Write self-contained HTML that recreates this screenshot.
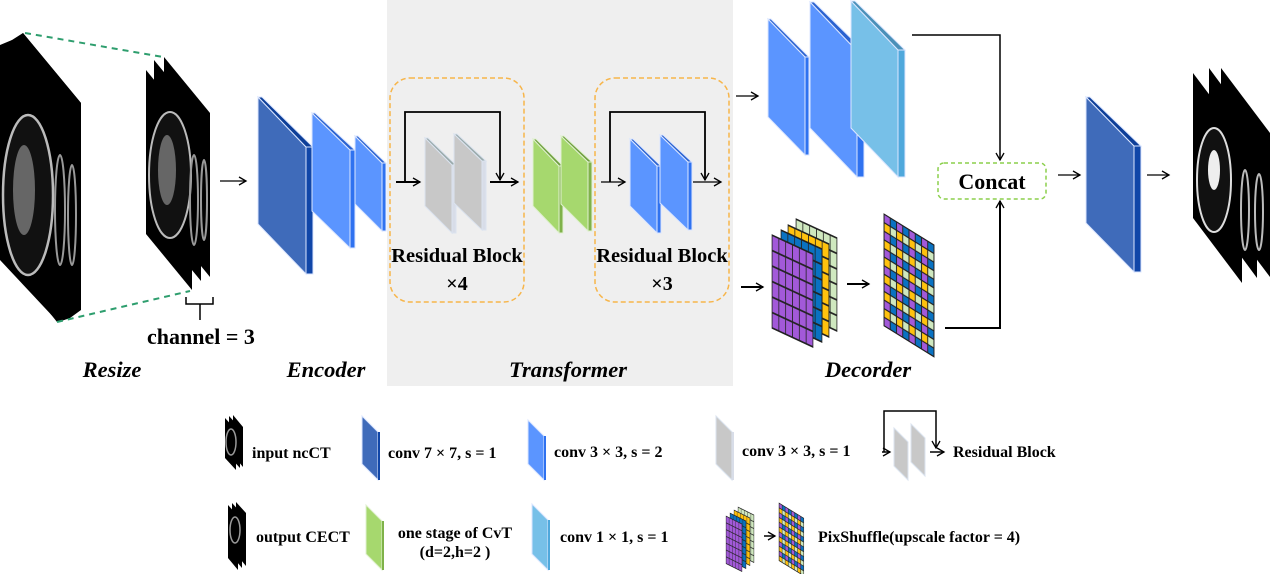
<!DOCTYPE html>
<html><head><meta charset="utf-8"><style>
html,body{margin:0;padding:0;background:#fff;}
svg{display:block;}
text{font-family:"Liberation Serif",serif;fill:#000;}
.b{font-weight:bold;}
.lg{font-weight:bold;font-size:16px;}
</style></head><body>
<svg width="1270" height="574" viewBox="0 0 1270 574" xmlns="http://www.w3.org/2000/svg">
<defs>
<marker id="ar" markerWidth="10" markerHeight="10" refX="8" refY="5" orient="auto" markerUnits="userSpaceOnUse"><path d="M1,1 L8,5 L1,9" fill="none" stroke="#000" stroke-width="1.3"/></marker>
<pattern id="pp" width="1" height="1" patternUnits="userSpaceOnUse"><rect width="1" height="1" fill="#a259d9" stroke="#222" stroke-width="0.12"/></pattern>
<pattern id="pb" width="1" height="1" patternUnits="userSpaceOnUse"><rect width="1" height="1" fill="#0a72c2" stroke="#222" stroke-width="0.12"/></pattern>
<pattern id="py" width="1" height="1" patternUnits="userSpaceOnUse"><rect width="1" height="1" fill="#ffc20e" stroke="#222" stroke-width="0.12"/></pattern>
<pattern id="pg" width="1" height="1" patternUnits="userSpaceOnUse"><rect width="1" height="1" fill="#cfe8bf" stroke="#222" stroke-width="0.12"/></pattern>
<pattern id="pm" width="2" height="2" patternUnits="userSpaceOnUse">
<rect x="0" y="0" width="1" height="1" fill="#a259d9" stroke="#222" stroke-width="0.15"/>
<rect x="1" y="0" width="1" height="1" fill="#0a72c2" stroke="#222" stroke-width="0.15"/>
<rect x="0" y="1" width="1" height="1" fill="#ffc20e" stroke="#222" stroke-width="0.15"/>
<rect x="1" y="1" width="1" height="1" fill="#cfe8bf" stroke="#222" stroke-width="0.15"/>
</pattern>
</defs>

<!-- transformer background -->
<rect x="387" y="0" width="346" height="386" fill="#efefef"/>
<rect x="390" y="78" width="134" height="224" rx="20" fill="none" stroke="#f7b54a" stroke-width="1.5" stroke-dasharray="5,3"/>
<rect x="595" y="78" width="134" height="224" rx="20" fill="none" stroke="#f7b54a" stroke-width="1.5" stroke-dasharray="5,3"/>

<!-- left CT stack -->
<g fill="#000">
<polygon points="0,50 12,40 70,110 70,318 58,322 0,260"/>
<polygon points="0,45 12,40 23,33 81,103 81,310 70,318 58,322 0,255"/>
<polygon points="23,33 81,103 81,308 57,322 0,250 0,60"/>
</g>
<ellipse cx="28" cy="195" rx="25" ry="80" fill="#111" stroke="#bbb" stroke-width="2.5"/>
<ellipse cx="24" cy="190" rx="11" ry="45" fill="#666"/>
<ellipse cx="60" cy="210" rx="5" ry="55" fill="none" stroke="#999" stroke-width="2"/>
<ellipse cx="72" cy="215" rx="4" ry="50" fill="none" stroke="#999" stroke-width="2"/>
<!-- middle CT stack -->
<g fill="#000">
<polygon points="146,70 192,126 192,290 146,234"/>
<polygon points="154,60 201,117 201,281 154,224"/>
<polygon points="164,57 210,113 210,277 164,221"/>
</g>
<ellipse cx="170" cy="175" rx="21" ry="63" fill="#111" stroke="#bbb" stroke-width="2"/>
<ellipse cx="167" cy="170" rx="9" ry="35" fill="#666"/>
<ellipse cx="194" cy="200" rx="4" ry="45" fill="none" stroke="#999" stroke-width="2"/>
<ellipse cx="204" cy="200" rx="3" ry="40" fill="none" stroke="#999" stroke-width="2"/>
<line x1="25" y1="33" x2="163" y2="57" stroke="#2e9e6e" stroke-width="2" stroke-dasharray="6,5"/>
<line x1="57" y1="322" x2="190" y2="291" stroke="#2e9e6e" stroke-width="2" stroke-dasharray="6,5"/>
<path d="M186,297 V304 H213 V297 M200,304 V320" fill="none" stroke="#000" stroke-width="1.5"/>
<text x="147" y="344" class="b" font-size="22">channel = 3</text>

<line x1="220" y1="181" x2="246" y2="181" stroke="#000" stroke-width="1.3" marker-end="url(#ar)"/>

<!-- encoder slabs -->
<g stroke="#dbe6ff" stroke-width="1">
<polygon points="258,97 306,147 306,274 258,224" fill="#3f6bba"/>
<polygon points="306,147 313,147 313,274 306,274" fill="#1046a8"/>
<polygon points="258,97 262,97 313,147 306,147" fill="#0d3e98"/>
<polygon points="312,113 350,150 350,248 312,211" fill="#5b95ff"/>
<polygon points="350,150 355,150 355,248 350,248" fill="#2f72f0"/>
<polygon points="312,113 315,113 355,150 350,150" fill="#2a62d0"/>
<polygon points="355,136 382,163 382,231 355,204" fill="#5b95ff"/>
<polygon points="382,163 386,163 386,231 382,231" fill="#2f72f0"/>
<polygon points="355,136 358,136 386,163 382,163" fill="#2a62d0"/>
</g>

<!-- transformer residual 1 -->
<path d="M396,182 H420" stroke="#000" stroke-width="2" marker-end="url(#ar)"/>
<path d="M405,182 V112 H500 V180" fill="none" stroke="#000" stroke-width="1.8" marker-end="url(#ar)"/>
<g stroke="#dbe3ef" stroke-width="1">
<polygon points="425,138 452,165 452,233 425,206" fill="#c8c8c8"/>
<polygon points="452,165 456,165 456,233 452,233" fill="#d8dde8"/>
<polygon points="425,138 428,138 456,165 452,165" fill="#9aa"/>
<polygon points="454,134 482,161 482,230 454,203" fill="#c8c8c8"/>
<polygon points="482,161 486,161 486,230 482,230" fill="#d8dde8"/>
<polygon points="454,134 457,134 486,161 482,161" fill="#9aa"/>
</g>
<path d="M490,182 H518" stroke="#000" stroke-width="2" marker-end="url(#ar)"/>
<!-- green -->
<g stroke="#e0f0d0" stroke-width="1">
<polygon points="533,139 559,166 559,233 533,206" fill="#a6d86e"/>
<polygon points="559,166 563,166 563,233 559,233" fill="#7fb24a"/>
<polygon points="533,139 536,139 563,166 559,166" fill="#6e9e3e"/>
<polygon points="561,136 588,162 588,231 561,204" fill="#a6d86e"/>
<polygon points="588,162 592,162 592,231 588,231" fill="#7fb24a"/>
<polygon points="561,136 564,136 592,162 588,162" fill="#6e9e3e"/>
</g>
<!-- residual 2 -->
<path d="M601,182 H625" stroke="#000" stroke-width="1.3" marker-end="url(#ar)"/>
<path d="M610,182 V112 H705 V180" fill="none" stroke="#000" stroke-width="1.8" marker-end="url(#ar)"/>
<g stroke="#dbe6ff" stroke-width="1">
<polygon points="630,139 657,166 657,233 630,206" fill="#5b95ff"/>
<polygon points="657,166 661,166 661,233 657,233" fill="#2f72f0"/>
<polygon points="630,139 633,139 661,166 657,166" fill="#2a62d0"/>
<polygon points="660,135 688,162 688,230 660,203" fill="#5b95ff"/>
<polygon points="688,162 692,162 692,230 688,230" fill="#2f72f0"/>
<polygon points="660,135 663,135 692,162 688,162" fill="#2a62d0"/>
</g>
<path d="M693,182 H721" stroke="#000" stroke-width="1.3" marker-end="url(#ar)"/>
<text x="457" y="262" class="b" font-size="20.5" text-anchor="middle">Residual Block</text>
<text x="457" y="290" class="b" font-size="20" text-anchor="middle">×4</text>
<text x="662" y="262" class="b" font-size="20.5" text-anchor="middle">Residual Block</text>
<text x="662" y="290" class="b" font-size="20" text-anchor="middle">×3</text>

<!-- decoder top -->
<line x1="736" y1="96" x2="758" y2="96" stroke="#000" stroke-width="1.3" marker-end="url(#ar)"/>
<g stroke="#dbe6ff" stroke-width="1">
<polygon points="768,19 805,57 805,155 768,117" fill="#5b95ff"/>
<polygon points="805,57 809,57 809,155 805,155" fill="#2f72f0"/>
<polygon points="768,19 771,19 809,57 805,57" fill="#2a62d0"/>
<polygon points="810,2 857,51 857,177 810,128" fill="#5b95ff"/>
<polygon points="857,51 864,51 864,177 857,177" fill="#2f72f0"/>
<polygon points="810,2 814,2 864,51 857,51" fill="#2a62d0"/>
<polygon points="851,1 898,50 898,177 851,128" fill="#77c0e8"/>
<polygon points="898,50 905,50 905,177 898,177" fill="#4fa8dc"/>
<polygon points="851,1 855,1 905,50 898,50" fill="#4a90b8"/>
</g>
<path d="M912,35 H1000 V160" fill="none" stroke="#000" stroke-width="1.5" marker-end="url(#ar)"/>
<rect x="938" y="163" width="108" height="36" rx="6" fill="#fff" stroke="#8bcf4b" stroke-width="1.5" stroke-dasharray="4,3"/>
<text x="992" y="189" class="b" font-size="22" text-anchor="middle">Concat</text>
<path d="M945,328 H1000 V201" fill="none" stroke="#000" stroke-width="2" marker-end="url(#ar)"/>

<!-- decoder bottom grids -->
<line x1="741" y1="287" x2="763" y2="287" stroke="#000" stroke-width="2" marker-end="url(#ar)"/>
<g transform="matrix(6.83,3.17,0,15.5,796,219)"><rect width="6" height="6" fill="url(#pg)" stroke="#222" stroke-width="0.1"/></g>
<g transform="matrix(6.83,3.17,0,15.5,788,225)"><rect width="6" height="6" fill="url(#py)" stroke="#222" stroke-width="0.1"/></g>
<g transform="matrix(6.83,3.17,0,15.5,781,230)"><rect width="6" height="6" fill="url(#pb)" stroke="#222" stroke-width="0.1"/></g>
<g transform="matrix(6.83,3.17,0,15.5,772,235)"><rect width="6" height="6" fill="url(#pp)" stroke="#222" stroke-width="0.1"/></g>
<line x1="847" y1="284" x2="869" y2="284" stroke="#000" stroke-width="2" marker-end="url(#ar)"/>
<g transform="matrix(6.25,3.875,0,8.6,884,214)"><rect width="8" height="13" fill="url(#pm)" stroke="#222" stroke-width="0.15"/></g>

<!-- final -->
<line x1="1058" y1="175" x2="1080" y2="175" stroke="#000" stroke-width="1.3" marker-end="url(#ar)"/>
<g stroke="#dbe6ff" stroke-width="1">
<polygon points="1086,97 1134,146 1134,272 1086,223" fill="#3f6bba"/>
<polygon points="1134,146 1141,146 1141,272 1134,272" fill="#1046a8"/>
<polygon points="1086,97 1090,97 1141,146 1134,146" fill="#0d3e98"/>
</g>
<line x1="1147" y1="175" x2="1169" y2="175" stroke="#000" stroke-width="1.3" marker-end="url(#ar)"/>
<g fill="#000">
<polygon points="1221,68 1270,133 1270,277 1221,212"/>
<polygon points="1209,68 1257,133 1257,278 1209,213"/>
<polygon points="1193,73 1242,138 1242,283 1193,218"/>
</g>
<ellipse cx="1214" cy="180" rx="17" ry="52" fill="#111" stroke="#ddd" stroke-width="2"/>
<ellipse cx="1214" cy="170" rx="6" ry="20" fill="#eee"/>
<ellipse cx="1245" cy="210" rx="4" ry="40" fill="none" stroke="#bbb" stroke-width="2"/>
<ellipse cx="1259" cy="212" rx="4" ry="38" fill="none" stroke="#bbb" stroke-width="2"/>

<!-- stage labels -->
<text x="112" y="377" class="b" font-size="22.5" font-style="italic" text-anchor="middle">Resize</text>
<text x="326" y="377" class="b" font-size="22.5" font-style="italic" text-anchor="middle">Encoder</text>
<text x="568" y="377" class="b" font-size="22.5" font-style="italic" text-anchor="middle">Transformer</text>
<text x="868" y="377" class="b" font-size="22.5" font-style="italic" text-anchor="middle">Decorder</text>

<!-- legend row 1 -->
<g fill="#000">
<polygon points="225,418 236,430 236,470 225,458"/>
<polygon points="229,416 240,428 240,468 229,456"/>
<polygon points="233,415 243,427 243,467 233,455"/>
</g>
<ellipse cx="231" cy="442" rx="5" ry="13" fill="none" stroke="#999" stroke-width="1.5"/>
<text x="252" y="458" class="lg">input ncCT</text>
<polygon points="362,416 378,432 378,480 362,464" fill="#3f6bba" stroke="#dbe6ff"/>
<polygon points="378,432 380,432 380,480 378,480" fill="#1046a8"/>
<text x="388" y="458" class="lg">conv 7 × 7, s = 1</text>
<polygon points="528,420 544,436 544,480 528,464" fill="#5b95ff" stroke="#dbe6ff"/>
<polygon points="544,436 546,436 546,480 544,480" fill="#2f72f0"/>
<text x="554" y="457" class="lg">conv 3 × 3, s = 2</text>
<polygon points="716,416 732,432 732,480 716,464" fill="#c8c8c8" stroke="#dbe3ef"/>
<polygon points="732,432 734,432 734,480 732,480" fill="#d8dde8"/>
<text x="742" y="456" class="lg">conv 3 × 3, s = 1</text>
<path d="M882,452 H890" stroke="#000" stroke-width="1.5" marker-end="url(#ar)"/>
<path d="M884,452 V411 H936 V448" fill="none" stroke="#000" stroke-width="1.5" marker-end="url(#ar)"/>
<polygon points="894,428 908,442 908,480 894,466" fill="#c8c8c8" stroke="#dbe3ef"/>
<polygon points="911,424 925,438 925,476 911,462" fill="#c8c8c8" stroke="#dbe3ef"/>
<path d="M930,452 H944" stroke="#000" stroke-width="1.5" marker-end="url(#ar)"/>
<text x="953" y="457" class="lg">Residual Block</text>

<!-- legend row 2 -->
<g fill="#000">
<polygon points="228,505 238,516 238,570 228,558"/>
<polygon points="232,503 242,514 242,568 232,556"/>
<polygon points="236,502 246,513 246,566 236,554"/>
</g>
<ellipse cx="235" cy="530" rx="5" ry="13" fill="none" stroke="#999" stroke-width="1.5"/>
<text x="256" y="542" class="lg">output CECT</text>
<polygon points="366,505 382,521 382,570 366,554" fill="#a6d86e" stroke="#e0f0d0"/>
<polygon points="382,521 384,521 384,570 382,570" fill="#7fb24a"/>
<text x="455" y="538" class="lg" text-anchor="middle">one stage of CvT</text>
<text x="455" y="557" class="lg" text-anchor="middle">(d=2,h=2 )</text>
<polygon points="532,504 548,520 548,570 532,554" fill="#77c0e8" stroke="#dbe6ff"/>
<polygon points="548,520 550,520 550,570 548,570" fill="#4fa8dc"/>
<text x="560" y="542" class="lg">conv 1 × 1, s = 1</text>
<g transform="matrix(3.2,1.6,0,6.8,738,507)"><rect width="5" height="7" fill="url(#pg)" stroke="#222" stroke-width="0.1"/></g>
<g transform="matrix(3.2,1.6,0,6.8,734,510)"><rect width="5" height="7" fill="url(#py)" stroke="#222" stroke-width="0.1"/></g>
<g transform="matrix(3.2,1.6,0,6.8,730,513)"><rect width="5" height="7" fill="url(#pb)" stroke="#222" stroke-width="0.1"/></g>
<g transform="matrix(3.2,1.6,0,6.8,726,516)"><rect width="5" height="7" fill="url(#pp)" stroke="#222" stroke-width="0.1"/></g>
<path d="M764,536 H775" stroke="#000" stroke-width="1.5" marker-end="url(#ar)"/>
<g transform="matrix(3.1,1.9,0,4.8,779,503)"><rect width="8" height="12" fill="url(#pm)" stroke="#222" stroke-width="0.15"/></g>
<text x="818" y="542" class="lg">PixShuffle(upscale factor = 4)</text>
</svg>
</body></html>
